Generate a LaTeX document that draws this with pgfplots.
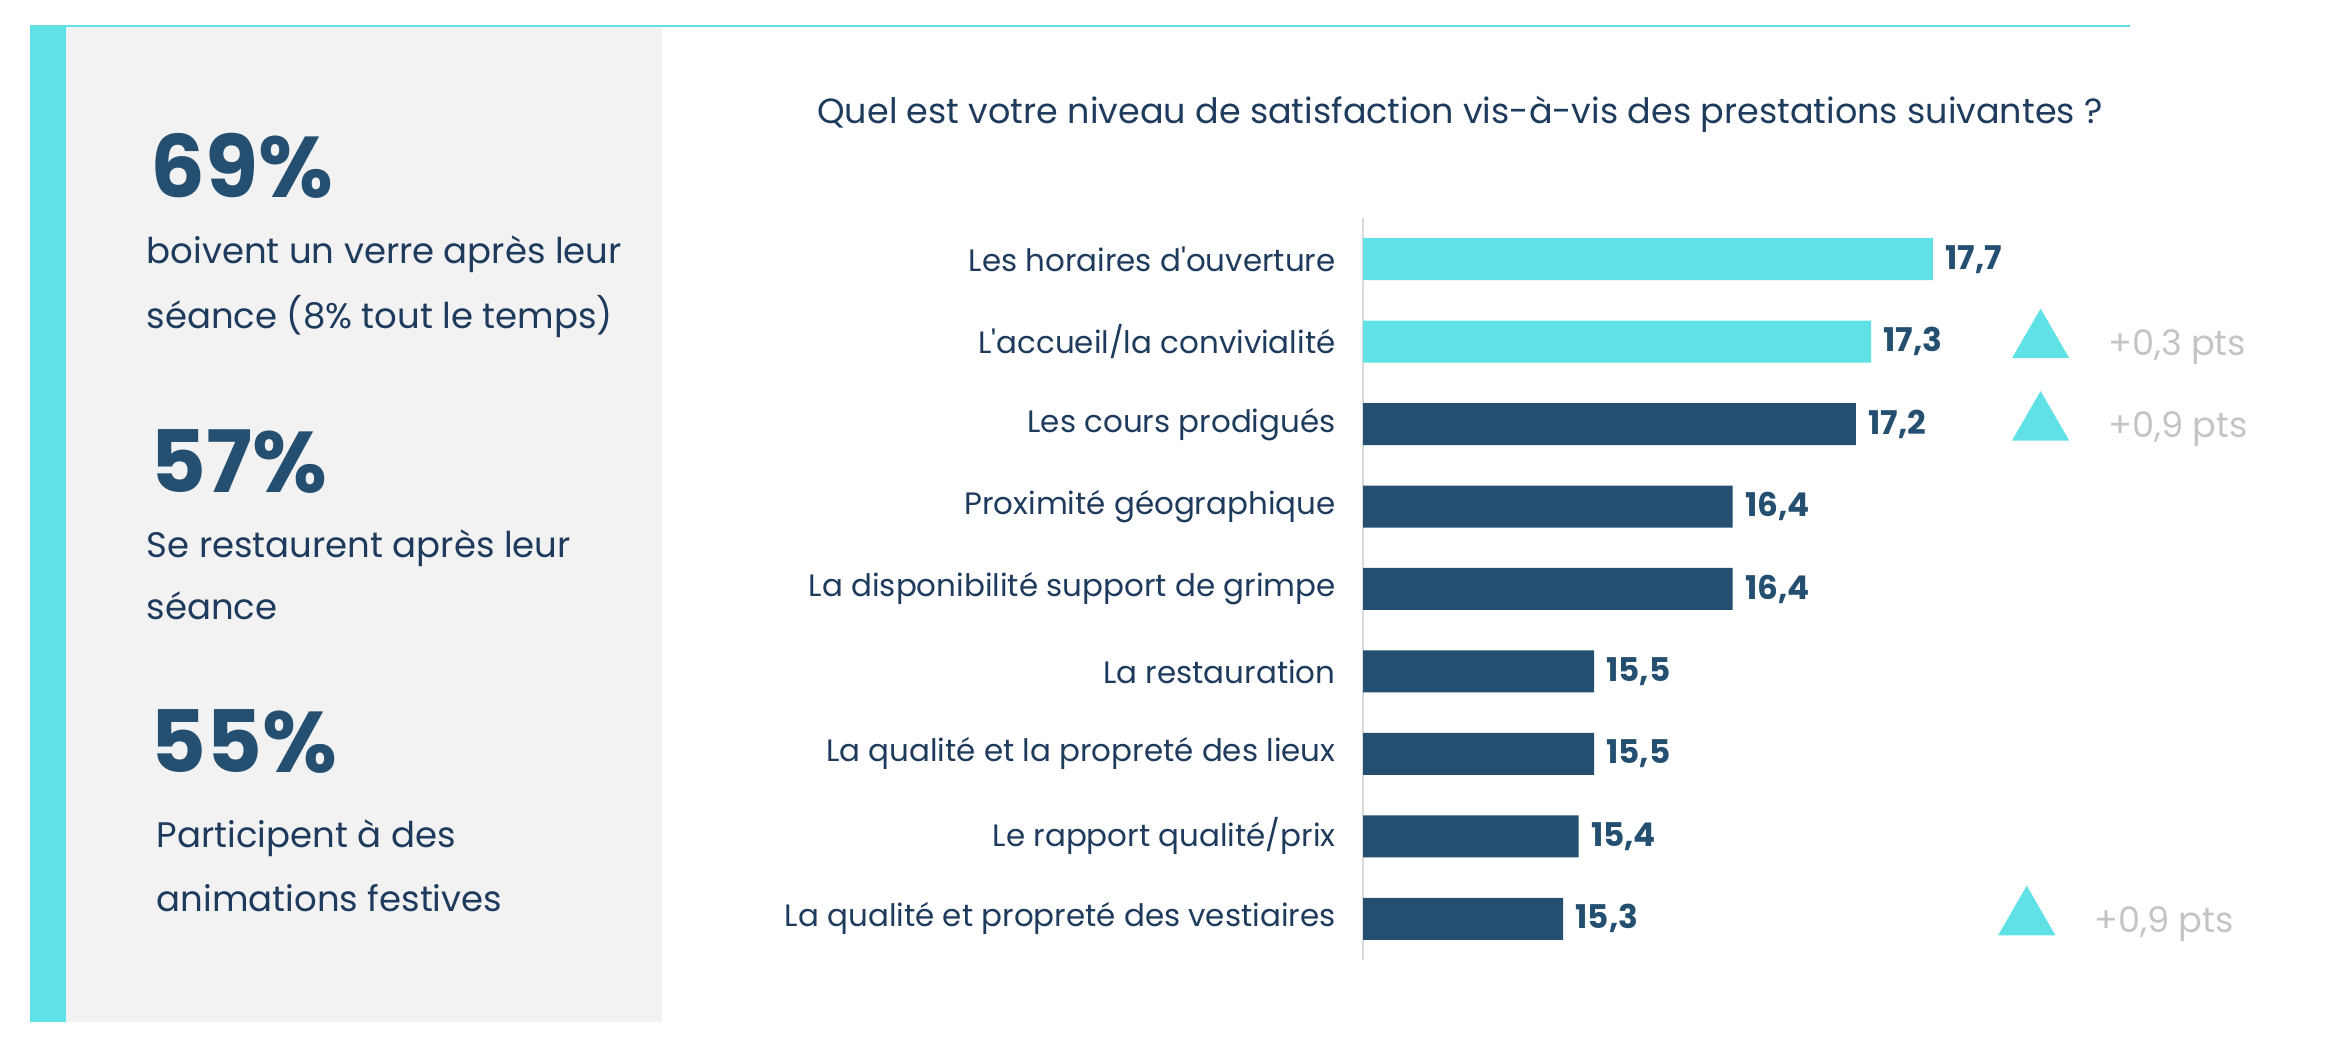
\documentclass[border=0pt]{standalone}
\usepackage{fontspec}
\setmainfont{Poppins}
\usepackage{pgfplots}
\pgfplotsset{compat=1.18}
\definecolor{cyanbar}{HTML}{5FE1E6}
\definecolor{navy}{HTML}{244F70}
\definecolor{labnavy}{HTML}{1E3A5C}
\definecolor{panel}{HTML}{F2F2F2}
\definecolor{ptsgray}{HTML}{C4C4C4}
\definecolor{axgray}{HTML}{DADADA}

\begin{document}
\begin{tikzpicture}[x=1cm,y=1cm]
\path[use as bounding box] (0,0) rectangle (23.26,10.40);
% left panel
\fill[panel] (0.66,0.18) rectangle (6.62,10.14);
\fill[cyanbar] (0.30,0.18) rectangle (0.66,10.14);
\draw[cyanbar, line width=0.6pt] (0.30,10.14) -- (21.30,10.14);

\begin{scope}[every node/.style={anchor=base west, inner sep=0pt}]
\node[font=\fontsize{24.5}{28}\selectfont\bfseries, text=navy] at (1.50,8.42) {69\%};
\node[font=\fontsize{10.1}{12}\selectfont, text=labnavy] at (1.46,7.76) {boivent un verre après leur};
\node[font=\fontsize{10.1}{12}\selectfont, text=labnavy] at (1.46,7.11) {séance (8\% tout le temps)};
\node[font=\fontsize{24.5}{28}\selectfont\bfseries, text=navy] at (1.50,5.47) {57\%};
\node[font=\fontsize{10.1}{12}\selectfont, text=labnavy] at (1.46,4.82) {Se restaurent après leur};
\node[font=\fontsize{10.1}{12}\selectfont, text=labnavy] at (1.46,4.20) {séance};
\node[font=\fontsize{24.5}{28}\selectfont\bfseries, text=navy] at (1.50,2.67) {55\%};
\node[font=\fontsize{10.1}{12}\selectfont, text=labnavy] at (1.56,1.92) {Participent à des};
\node[font=\fontsize{10.1}{12}\selectfont, text=labnavy] at (1.56,1.28) {animations festives};
\end{scope}

\node[anchor=base, inner sep=0pt, font=\fontsize{9.95}{12}\selectfont, text=labnavy] at (14.60,9.16)
  {Quel est votre niveau de satisfaction vis-à-vis des prestations suivantes ?};

\begin{axis}[
    at={(13.63cm,0.80cm)}, anchor=south west,
    scale only axis, width=7.7cm, height=7.42cm,
    x coord trafo/.code={\pgfmathparse{#1-14}},
    x coord inv trafo/.code={\pgfmathparse{#1+14}},
    xmin=14, xmax=19, ymin=-0.5, ymax=8.5,
    y dir=reverse, clip=false,
    hide x axis,
    axis y line*=left,
    y axis line style={draw=axgray, line width=0.8pt, -},
    major tick length=0pt,
    ytick={0,...,8},
    yticklabels={Les horaires d\textquotesingle ouverture, L\textquotesingle accueil/la convivialité, Les cours prodigués,
      Proximité géographique, La disponibilité support de grimpe, La restauration,
      La qualité et la propreté des lieux, Le rapport qualité/prix,
      La qualité et propreté des vestiaires},
    yticklabel style={text=labnavy, font=\fontsize{8.8}{11}\selectfont, xshift=-0.15cm},
    /pgf/number format/assume math mode=true,
  ]
  \addplot[xbar, bar width=0.42cm, bar shift=0pt, fill=cyanbar, draw=none,
    point meta=rawx,
    nodes near coords={\pgfmathprintnumber[fixed, precision=1, fixed zerofill, use comma]{\pgfplotspointmeta}},
    every node near coord/.append style={anchor=west, text=navy, font=\fontsize{9.3}{11}\selectfont\bfseries}]
    coordinates {(17.7,0) (17.3,1)};
  \addplot[xbar, bar width=0.42cm, bar shift=0pt, fill=navy, draw=none,
    point meta=rawx,
    nodes near coords={\pgfmathprintnumber[fixed, precision=1, fixed zerofill, use comma]{\pgfplotspointmeta}},
    every node near coord/.append style={anchor=west, text=navy, font=\fontsize{9.3}{11}\selectfont\bfseries}]
    coordinates {(17.2,2) (16.4,3) (16.4,4) (15.5,5) (15.5,6) (15.4,7) (15.3,8)};
  \addplot[only marks, mark=triangle*, mark size=9pt, color=cyanbar,
    point meta=explicit symbolic, nodes near coords,
    every node near coord/.append style={anchor=west, xshift=0.55cm, yshift=-0.05cm, text=ptsgray, font=\fontsize{10}{12}\selectfont}]
    coordinates {(18.40,1) [+0,3 pts] (18.40,2) [+0,9 pts] (18.31,8) [+0,9 pts]};
\end{axis}
\end{tikzpicture}
\end{document}
